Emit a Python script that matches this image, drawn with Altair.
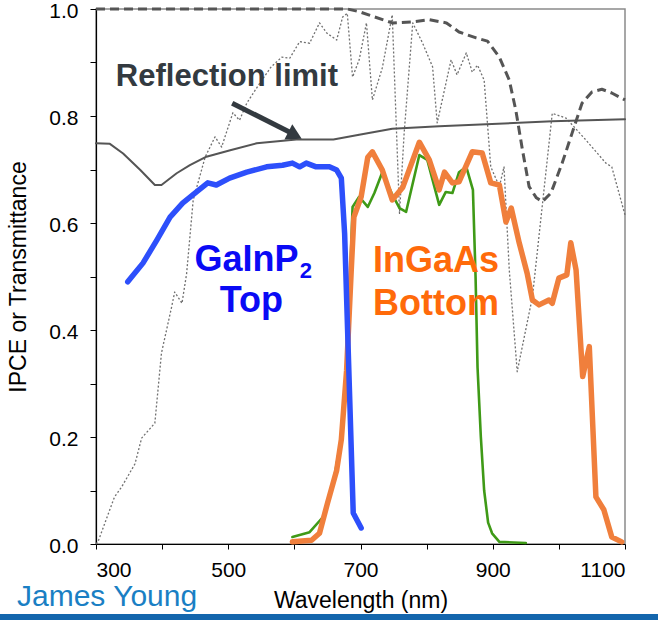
import altair as alt
import pandas as pd

# ---------------- data ----------------
refl_wl = [300, 321, 341, 367, 389, 399, 422, 442, 467, 503, 543, 603, 659, 698, 748, 819, 899, 990, 1100]
refl_v = [0.749, 0.748, 0.730, 0.699, 0.671, 0.671, 0.693, 0.708, 0.724, 0.736, 0.749, 0.756, 0.756,
          0.765, 0.776, 0.781, 0.785, 0.790, 0.794]

dash_wl = [300, 400, 500, 600, 680, 698, 748, 779, 804, 830, 849, 875, 892, 910, 925, 935, 945, 955,
           966, 975, 988, 1005, 1020, 1035, 1050, 1065, 1080, 1100]
dash_v = [1.0, 1.0, 1.0, 1.0, 1.0, 0.995, 0.974, 0.976, 0.98, 0.974, 0.957, 0.946, 0.94, 0.91, 0.867,
          0.81, 0.736, 0.668, 0.647, 0.64, 0.656, 0.712, 0.768, 0.824, 0.845, 0.85, 0.843, 0.83]

dot_wl = [300, 303, 328, 339, 359, 369, 389, 399, 414, 419, 430, 437, 447, 465, 480, 490, 507, 517, 528,
          548, 565, 581, 593, 608, 623, 638, 649, 664, 673, 680, 688, 698, 709, 718, 733, 748, 759, 766,
          779, 794, 809, 816, 837, 846, 860, 869, 877, 887, 897, 910, 917, 925, 937, 960, 990, 1011, 1041,
          1071, 1080, 1100]
dot_v = [0.0, 0.004, 0.088, 0.107, 0.15, 0.198, 0.226, 0.357, 0.441, 0.471, 0.45, 0.505, 0.643, 0.723,
         0.761, 0.742, 0.806, 0.792, 0.824, 0.862, 0.892, 0.91, 0.908, 0.939, 0.936, 0.974, 0.955, 0.942,
         0.985, 0.992, 0.873, 0.905, 0.974, 0.83, 0.89, 0.989, 0.618, 0.768, 0.974, 0.936, 0.892, 0.787,
         0.905, 0.877, 0.918, 0.882, 0.895, 0.867, 0.705, 0.668, 0.705, 0.512, 0.322, 0.462, 0.805, 0.796,
         0.755, 0.712, 0.705, 0.615]

top_wl = [348, 371, 392, 412, 431, 452, 469, 482, 502, 528, 558, 582, 597, 608, 618, 633, 653, 664, 671,
          676, 689, 701]
top_v = [0.49, 0.525, 0.568, 0.611, 0.637, 0.658, 0.675, 0.671, 0.684, 0.695, 0.705, 0.708, 0.712, 0.705,
         0.712, 0.705, 0.705, 0.699, 0.684, 0.58, 0.058, 0.03]

green_wl = [597, 623, 643, 658, 671, 679, 683, 688, 698, 711, 721, 733, 747, 759, 769, 789, 801, 819, 829,
            839, 849, 860, 870, 874, 877, 882, 887, 893, 899, 910, 950]
green_v = [0.013, 0.022, 0.05, 0.107, 0.2, 0.325, 0.45, 0.63, 0.649, 0.63, 0.656, 0.695, 0.656, 0.628,
           0.621, 0.727, 0.718, 0.634, 0.658, 0.656, 0.695, 0.705, 0.662, 0.5, 0.33, 0.2, 0.1, 0.04, 0.02,
           0.004, 0.002]

bot_wl = [597, 626, 638, 650, 664, 671, 679, 686, 690, 701, 711, 718, 733, 748, 764, 789, 804, 819, 827,
          839, 849, 869, 884, 897, 910, 920, 928, 940, 952, 960, 970, 985, 990, 1000, 1012, 1018, 1026,
          1036, 1046, 1056, 1068, 1080, 1095]
bot_v = [0.004, 0.007, 0.02, 0.076, 0.138, 0.195, 0.325, 0.512, 0.611, 0.649, 0.723, 0.733, 0.699, 0.643,
         0.667, 0.751, 0.718, 0.662, 0.695, 0.675, 0.677, 0.733, 0.731, 0.675, 0.671, 0.602, 0.628, 0.563,
         0.506, 0.456, 0.447, 0.456, 0.45, 0.497, 0.503, 0.563, 0.512, 0.313, 0.369, 0.088, 0.064, 0.013,
         0.004]

x_ticks = list(range(300, 1101, 100))
y_ticks = [round(i * 0.1, 1) for i in range(11)]

FONT = "Liberation Sans"

xs = alt.Scale(domain=[300, 1100], nice=False, zero=False)
ys = alt.Scale(domain=[0, 1], nice=False, zero=False)

x_axis = alt.Axis(values=x_ticks, format="d",
                  labelExpr="datum.value % 200 == 100 ? datum.label : ''",
                  title="Wavelength (nm)", grid=False, tickSize=5, tickColor="black",
                  domainColor="black", domainWidth=1.2, labelFont=FONT, labelFontSize=21,
                  labelColor="black", labelPadding=10, titleFont=FONT, titleFontSize=23,
                  titleFontWeight="normal", titleColor="black", titlePadding=9)
y_axis = alt.Axis(values=y_ticks, format=".1f",
                  labelExpr="round(datum.value * 10) % 2 == 0 ? datum.label : ''",
                  title="IPCE or Transmittance", grid=False, tickSize=6, tickColor="black",
                  domainColor="black", domainWidth=1.2, labelFont=FONT, labelFontSize=21,
                  labelColor="black", labelPadding=12, labelOffset=2, titleFont=FONT,
                  titleFontSize=23, titleFontWeight="normal", titleColor="black", titlePadding=18)

X = lambda f: alt.X(f, type="quantitative", scale=xs, axis=x_axis)
Y = lambda f: alt.Y(f, type="quantitative", scale=ys, axis=y_axis)


def line(wl, v, color, width, dash=None):
    df = pd.DataFrame({"wl": wl, "v": v})
    kw = dict(color=color, strokeWidth=width, strokeJoin="round", strokeCap="round")
    if dash:
        kw["strokeDash"] = dash
        kw["strokeCap"] = "butt"
    return alt.Chart(df).mark_line(**kw).encode(x=X("wl"), y=Y("v"))


l_dot = line(dot_wl, dot_v, "#707070", 1.3, dash=[2, 2])
l_dash = line(dash_wl, dash_v, "#555555", 3, dash=[9, 5])
l_refl = line(refl_wl, refl_v, "#555555", 2)
l_green = line(green_wl, green_v, "#3f9a17", 2.6)
l_bot = line(bot_wl, bot_v, "#f07f3c", 5.5)
l_top = line(top_wl, top_v, "#2d4ffb", 5.5)

# arrow for "Reflection limit"
arrow_df = pd.DataFrame({"wl": [506], "v": [0.824], "wl2": [594], "v2": [0.769]})
arrow = alt.Chart(arrow_df).mark_rule(color="#333a40", strokeWidth=5).encode(
    x=X("wl"), y=Y("v"), x2="wl2:Q", y2="v2:Q")
head_df = pd.DataFrame({"wl": [601], "v": [0.764]})
head = alt.Chart(head_df).mark_point(shape="triangle-right", filled=True, color="#333a40",
                                     opacity=1, size=300, angle=27).encode(x=X("wl"), y=Y("v"))


def text(df, **kw):
    return alt.Chart(pd.DataFrame(df)).mark_text(font=FONT, **kw).encode(
        x=X("wl"), y=Y("v"), text="t:N")


t_refl = text({"wl": [330], "v": [0.856], "t": ["Reflection limit"]},
              fontSize=31, fontWeight="bold", color="#333a40", align="left", baseline="alphabetic")
t_top1 = text({"wl": [449], "v": [0.510], "t": ["GaInP"]},
              fontSize=36, fontWeight="bold", color="#0a0af5", align="left", baseline="alphabetic")
t_top2 = text({"wl": [608], "v": [0.497], "t": ["2"]},
              fontSize=22, fontWeight="bold", color="#0a0af5", align="left", baseline="alphabetic")
t_top3 = text({"wl": [535], "v": [0.434], "t": ["Top"]},
              fontSize=36, fontWeight="bold", color="#0a0af5", align="center", baseline="alphabetic")
t_bot = text({"wl": [719, 719], "v": [0.508, 0.428], "t": ["InGaAs", "Bottom"]},
             fontSize=36, fontWeight="bold", color="#ff6a0a", align="left", baseline="alphabetic")

blank = alt.Data(values=[{}])
author = alt.Chart(blank).mark_text(text="James Young", font=FONT, fontSize=30, color="#1a7fc4",
                                    align="left", baseline="alphabetic").encode(
    x=alt.value(-79), y=alt.value(597))
bar = alt.Chart(blank).mark_rect(color="#1466ad").encode(
    x=alt.value(-96), x2=alt.value(562), y=alt.value(605), y2=alt.value(611))

chart = alt.layer(
    l_dot, l_dash, l_refl, l_green, l_bot, l_top, arrow, head,
    t_refl, t_top1, t_top2, t_top3, t_bot, author, bar
).properties(
    width=529, height=535,
    autosize="none",
    padding={"left": 96, "top": 9, "right": 33, "bottom": 76},
    background="white",
).configure_view(stroke="#8a8a8a", strokeWidth=1.5)

chart.save("out.html", embed_options={"renderer": "svg", "actions": False})
